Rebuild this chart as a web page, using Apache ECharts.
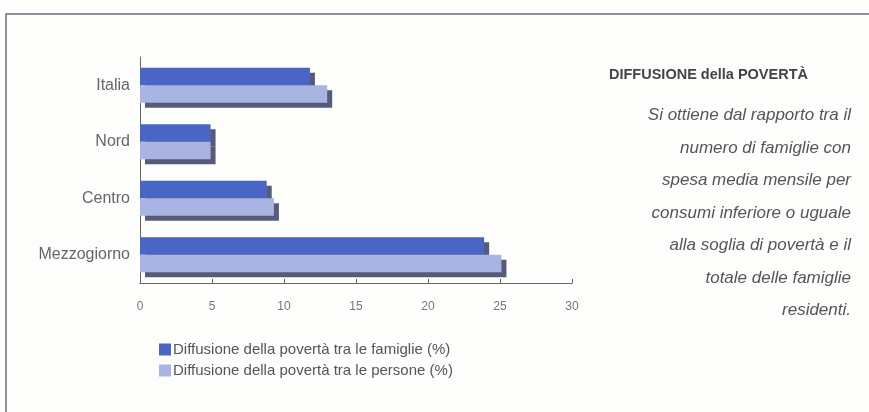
<!DOCTYPE html>
<html>
<head>
<meta charset="utf-8">
<script src="https://cdn.jsdelivr.net/npm/echarts@6/dist/echarts.min.js"></script>
<style>
  html, body { margin: 0; padding: 0; background: #fdfdfb; }
  #container { width: 869px; height: 412px; }
</style>
</head>
<body>
<div id="container"></div>
<script>
var categories = ['Italia', 'Nord', 'Centro', 'Mezzogiorno'];
var famiglie = [11.8, 4.9, 8.8, 23.9];
var persone = [13.0, 4.9, 9.3, 25.1];
var xTicks = [0, 5, 10, 15, 20, 25, 30];
var seriesNames = [
    'Diffusione della povertà tra le famiglie (%)',
    'Diffusione della povertà tra le persone (%)'
];
var noteTitle = 'DIFFUSIONE della POVERTÀ';
var noteLines = [
    'Si ottiene dal rapporto tra il',
    'numero di famiglie con',
    'spesa media mensile per',
    'consumi inferiore o uguale',
    'alla soglia di povertà e il',
    'totale delle famiglie',
    'residenti.'
];

var myChart = echarts.init(document.getElementById('container'));

var shadow = {
    shadowColor: '#575b7a',
    shadowBlur: 0,
    shadowOffsetX: 5,
    shadowOffsetY: 5
};

// riquadro e testo di destra
var graphics = [
    {
        type: 'rect',
        shape: { x: 6, y: 14, width: 900, height: 450 },
        style: { fill: 'none', stroke: '#6b6e80', lineWidth: 1.5 },
        silent: true
    },
    {
        type: 'text',
        left: 609,
        top: 67,
        style: {
            text: noteTitle,
            font: 'bold 14.5px "Liberation Sans", Arial, sans-serif',
            fill: '#444'
        }
    }
];
noteLines.forEach(function (line, i) {
    graphics.push({
        type: 'text',
        right: 18,
        top: 107 + i * 32.5,
        style: {
            text: line,
            font: 'italic 17px "Liberation Sans", Arial, sans-serif',
            fill: '#555',
            align: 'right'
        }
    });
});

var option = {
    backgroundColor: '#fdfdfb',
    animation: false,
    textStyle: { fontFamily: '"Liberation Sans", Arial, sans-serif' },
    grid: {
        left: 140,
        top: 57,
        width: 432,
        height: 226
    },
    legend: {
        orient: 'vertical',
        left: 154,
        top: 337,
        itemWidth: 12,
        itemHeight: 12,
        itemGap: 6,
        icon: 'rect',
        textStyle: { fontSize: 15, color: '#555', padding: [0, 0, 0, -3] },
        data: seriesNames
    },
    graphic: graphics,
    xAxis: {
        type: 'value',
        min: xTicks[0],
        max: xTicks[xTicks.length - 1],
        interval: 5,
        splitLine: { show: false },
        axisLine: { show: true, lineStyle: { color: '#666', width: 1 } },
        axisTick: { show: true, inside: true, length: 4, lineStyle: { color: '#666' } },
        axisLabel: { color: '#777', fontSize: 12, margin: 18 }
    },
    yAxis: {
        type: 'category',
        inverse: true,
        data: categories,
        axisLine: { show: true, lineStyle: { color: '#666', width: 1 } },
        axisTick: { show: false },
        axisLabel: { color: '#666', fontSize: 16, margin: 10 }
    },
    series: [
        {
            name: seriesNames[0],
            type: 'bar',
            data: famiglie,
            barGap: '0%',
            barCategoryGap: '38%',
            itemStyle: Object.assign({ color: '#4a66c4' }, shadow)
        },
        {
            name: seriesNames[1],
            type: 'bar',
            data: persone,
            itemStyle: Object.assign({ color: '#a9b4e2' }, shadow)
        }
    ]
};

myChart.setOption(option);
window.onresize = function () {
    myChart.resize();
};
</script>
</body>
</html>
